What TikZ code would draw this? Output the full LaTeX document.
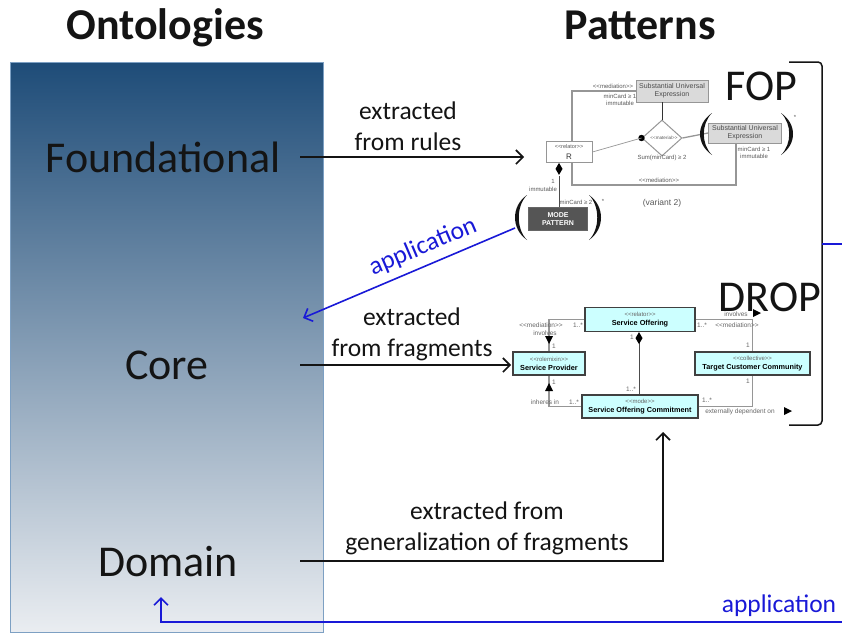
\documentclass[tikz,border=0pt]{standalone}
\usepackage{fontspec}
\setmainfont{Carlito}
\newfontfamily\umlfont{Liberation Sans}
\usetikzlibrary{arrows.meta,shapes.geometric}
\definecolor{ontotop}{RGB}{30,76,120}
\definecolor{ontobot}{RGB}{234,237,241}
\definecolor{ontoedge}{RGB}{125,160,195}
\definecolor{appblue}{RGB}{25,25,215}
\definecolor{umlcyan}{RGB}{204,255,255}
\definecolor{suefill}{RGB}{218,218,218}
\definecolor{modefill}{RGB}{85,85,85}
\definecolor{txtdark}{RGB}{20,20,20}
\definecolor{umlgrey}{RGB}{150,150,150}
\newcommand{\umlstereo}[1]{{\umlfont\fontsize{6}{6.5}\selectfont\mdseries\color{black!60}#1}}
\begin{document}
\begin{tikzpicture}[x=1pt,y=-1pt,
  titletxt/.style={font=\fontsize{44}{52}\selectfont\bfseries, anchor=base, text=txtdark},
  bigtxt/.style={font=\fontsize{44}{52}\selectfont, text=txtdark},
  midtxt/.style={font=\fontsize{25.5}{31}\selectfont, align=center, text=txtdark},
  apptxt/.style={font=\fontsize{25.5}{31}\selectfont, text=appblue},
  arr/.style={line width=1.6pt, draw=txtdark, -{Straight Barb[length=7pt,width=14pt]}},
  bluearr/.style={line width=1.6pt, draw=appblue, -{Straight Barb[length=7pt,width=14pt]}},
  umllab/.style={font=\umlfont\fontsize{6}{7}\selectfont, text=black!65, inner sep=0},
  droplab/.style={font=\umlfont\fontsize{6.5}{7.5}\selectfont, text=black!60, inner sep=0},
  umlline/.style={draw=umlgrey, line width=1.3pt},
  thinline/.style={draw=umlgrey, line width=0.7pt},
  suebox/.style={draw=umlgrey, line width=0.8pt, fill=suefill, font=\umlfont\fontsize{7}{8}\selectfont, text=black!70, align=center, inner sep=0},
  dropbox/.style={draw=black!75, line width=1.2pt, fill=umlcyan, font=\umlfont\fontsize{7.3}{9}\selectfont, align=center, inner sep=0},
  paren/.style={fill=txtdark}
]
\useasboundingbox (0,0) rectangle (842,635);
\fill[white] (0,0) rectangle (842,635);

% left panel
\shade[top color=ontotop, bottom color=ontobot] (10,62) rectangle (323,632);
\draw[ontoedge, line width=0.8pt] (10,62) rectangle (323,632);

% titles
\node[titletxt] (tonto) at (165,39) {Ontologies};
\node[titletxt] (tpat) at (640,39) {Patterns};

% ontology levels
\node[bigtxt] (found) at (163,157) {Foundational};
\node[bigtxt] (core) at (167,365) {Core};
\node[bigtxt] (dom) at (168,562) {Domain};

% pattern labels
\node[bigtxt] (fop) at (761,86) {FOP};
\node[bigtxt] (drop) at (770,297) {DROP};

% bracket
\draw[txtdark, line width=1.5pt, rounded corners=4pt] (789,62) -- (822,62) -- (822,425) -- (789,425);

% ================= FOP diagram =================
\node[suebox, minimum width=72, minimum height=22] (sue1) at (672,91) {Substantial Universal\\Expression};
\node[draw=umlgrey, line width=0.8pt, fill=white, minimum width=46, minimum height=21, inner sep=0, align=center] (rbox) at (569,152)
  {{\umlfont\fontsize{5.5}{6}\selectfont\color{black!65}<{}<relator>{}>}\\[-0.5pt]{\umlfont\fontsize{8}{9}\selectfont\color{black!80}R}};
\node[draw=black!60, line width=0.8pt, fill=modefill, minimum width=59, minimum height=23, inner sep=0, align=center, text=white, font=\umlfont\bfseries\fontsize{7}{8.5}\selectfont] (mode) at (558,219) {MODE\\PATTERN};
\node[diamond, draw=umlgrey, line width=1pt, fill=white, minimum width=40, minimum height=36, inner sep=0] (dia) at (662,138) {};
\node[umllab, font=\umlfont\fontsize{4.6}{5}\selectfont] (matlab) at (664,138) {<{}<material>{}>};
\node[suebox, minimum width=73, minimum height=20] (sue2) at (745,133) {Substantial Universal\\Expression};
\fill[black] (dia.west) circle (3.2);
\coordinate (medc) at (736,185);
\coordinate (medl) at (572,185);

% connectors FOP
\draw[umlline] (sue1.west) -| ([xshift=3]rbox.north);
\draw[thinline] (rbox.east) -- (dia.west);
\draw[black!80, line width=0.8pt] (dia.north) -- (dia.north |- sue1.south);
\draw[umlline] (dia.east) -- (sue2.west);
\draw[umlline] (sue2.south -| medc) -- (medc) -- (medl) -- ([xshift=3]rbox.south);
\draw[black!70, line width=0.9pt] (559,176) -- (mode.north -| 559,0);
\fill[black] (rbox.south -| 559,0) -- ++(3.5,6) -- ++(-3.5,6) -- ++(-3.5,-6) -- cycle;

% parentheses
\fill[paren] (527,195) .. controls (511,206) and (511,229) .. (527,240) .. controls (516,229) and (516,206) .. (527,195);
\fill[paren] (589,195) .. controls (605,206) and (605,229) .. (589,240) .. controls (600,229) and (600,206) .. (589,195);
\fill[paren] (712,113) .. controls (696,124) and (696,144) .. (712,155) .. controls (701,144) and (701,124) .. (712,113);
\fill[paren] (781,113) .. controls (797,124) and (797,144) .. (781,155) .. controls (792,144) and (792,124) .. (781,113);

% FOP labels
\node[umllab] (l1) at (613,86) {<{}<mediation>{}>};
\node[umllab] (l2) at (620,96) {minCard ≥ 1};
\node[umllab] (l3) at (620,103) {immutable};
\node[umllab] (l4) at (662,158) {Sum(minCard) ≥ 2};
\node[umllab] (l5) at (754,149) {minCard ≥ 1};
\node[umllab] (l6) at (754,156) {immutable};
\node[umllab] (l7) at (659,180) {<{}<mediation>{}>};
\node[umllab, font=\umlfont\fontsize{8.5}{9}\selectfont] (l8) at (662,203) {(variant 2)};
\node[umllab] (l9) at (553,181) {1};
\node[umllab] (l10) at (543,189) {immutable};
\node[umllab] (l11) at (576,202) {minCard ≥ 2};
\node[umllab] (l12) at (603,201) {*};
\node[umllab] (l13) at (795,117) {*};

% ================= DROP diagram =================
\node[dropbox, minimum width=110, minimum height=24] (so) at (640,319.5)
  {\umlstereo{<{}<relator>{}>}\\{\bfseries Service Offering}};
\node[dropbox, minimum width=72, minimum height=23] (sp) at (549,363.5)
  {\umlstereo{<{}<rolemixin>{}>}\\{\bfseries Service Provider}};
\node[dropbox, minimum width=115, minimum height=23] (tcc) at (752.5,363.5)
  {\umlstereo{<{}<collective>{}>}\\{\bfseries Target Customer Community}};
\node[dropbox, minimum width=116, minimum height=23] (soc) at (640,406.5)
  {\umlstereo{<{}<mode>{}>}\\{\bfseries Service Offering Commitment}};

\draw[umlline] (so.west) -| (sp.north);
\draw[umlline] (soc.west) -| (sp.south);
\draw[umlline] (so.east) -| (tcc.north);
\draw[umlline] (soc.east) -| (tcc.south);
\draw[black!70, line width=0.9pt] (639,343) -- (soc.north -| 639,0);
\fill[black] (so.south -| 639,0) -- ++(3.5,6) -- ++(-3.5,6) -- ++(-3.5,-6) -- cycle;

% direction triangles
\fill[black] (545,336) -- (553,336) -- (549,344) -- cycle;
\fill[black] (545,391) -- (553,391) -- (549,383) -- cycle;
\fill[black] (753,309) -- (761,313) -- (753,317) -- cycle;
\fill[black] (784,407) -- (792,411) -- (784,415) -- cycle;

% DROP labels
\node[droplab] (d1) at (541,325) {<{}<mediation>{}>};
\node[droplab] (d2) at (578,325) {1..*};
\node[droplab] (d3) at (545,333) {involves};
\node[droplab] (d4) at (554,346) {1};
\node[droplab] (d5) at (554,382) {1};
\node[droplab] (d6) at (545,402) {inheres in};
\node[droplab] (d7) at (574,402) {1..*};
\node[droplab] (d8) at (736,314) {involves};
\node[droplab] (d9) at (702,325) {1..*};
\node[droplab] (d10) at (737,325) {<{}<mediation>{}>};
\node[droplab] (d11) at (748,345) {1};
\node[droplab] (d12) at (748,381) {1};
\node[droplab] (d13) at (707,400) {1..*};
\node[droplab] (d14) at (740,412) {externally dependent on};
\node[droplab] (d15) at (632,337) {1};
\node[droplab] (d16) at (631,389) {1..*};

% ================= main arrows =================
\coordinate (fs) at (300,157);
\coordinate (fe) at (524,157);
\coordinate (cs) at (300,365);
\coordinate (ce) at (511,365);
\coordinate (ds) at (300,561);
\coordinate (de) at (663,432);
\coordinate (as) at (515,228);
\coordinate (ae) at (303,318);
\coordinate (br) at (822,244);
\coordinate (brr) at (842,244);
\coordinate (bs) at (842,622);
\coordinate (be) at (161,597);

\draw[arr] (fs) -- (fe);
\node[midtxt] (lab1) at (408,126) {extracted\\from rules};
\draw[arr] (cs) -- (ce);
\node[midtxt] (lab2) at (412,334) {extracted\\from fragments};
\draw[arr] (ds) -| (de);
\node[midtxt] (lab3) at (487,528) {extracted from\\generalization of fragments};

\draw[bluearr] (as) -- (ae);
\node[apptxt, rotate=23] (app1) at (423,247) {application};
\draw[appblue, line width=1.6pt] (br) -- (brr);
\draw[bluearr] (bs) -| (be);
\node[apptxt] (app2) at (779,606) {application};
\end{tikzpicture}
\end{document}
